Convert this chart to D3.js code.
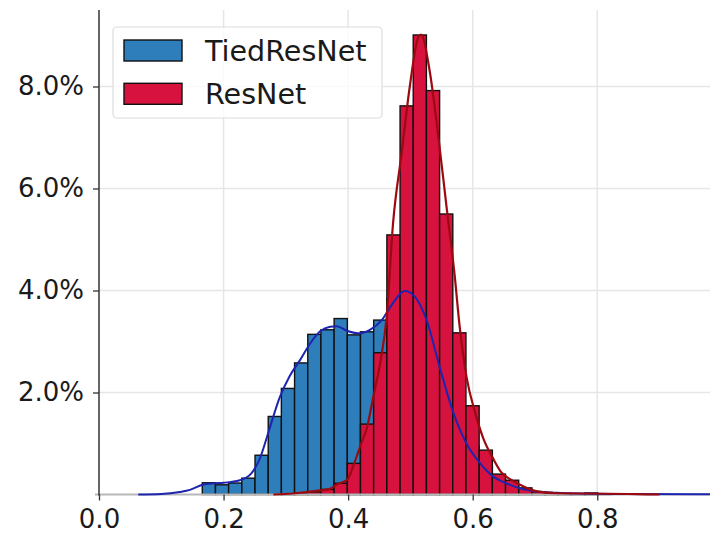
<!DOCTYPE html>
<html>
<head>
<meta charset="utf-8">
<script src="https://cdn.jsdelivr.net/npm/d3@7"></script>
<style>
  html, body { margin: 0; padding: 0; background: #fff; }
  svg { display: block; font-family: "DejaVu Sans", sans-serif; }
</style>
</head>
<body>
<svg id="chart" width="710" height="533"></svg>
<script>
// Histogram bins (left edges) shared by both series, and the bin width
const binEdges = [0.1658, 0.1870, 0.2081, 0.2293, 0.2505, 0.2717, 0.2928, 0.3140, 0.3352, 0.3563,
                  0.3775, 0.3987, 0.4198, 0.4410, 0.4622, 0.4834, 0.5045, 0.5257, 0.5469, 0.5680,
                  0.5892, 0.6104, 0.6315, 0.6527, 0.6739, 0.6951, 0.7162, 0.7374, 0.7586, 0.7797,
                  0.8009];
const binWidth = 0.02117;

// Share of samples per bin (percent)
const tiedResNetHist = [0.23, 0.19, 0.225, 0.32, 0.77, 1.53, 2.08, 2.58, 3.14, 3.23,
                        3.45, 3.13, 3.19, 3.42, 3.85, 3.95, 3.70, 3.00, 2.10, 1.40,
                        0.95, 0.55, 0.30, 0.18, 0.10, 0.04, 0.02, 0.01, 0.01, 0.01,
                        0.0];
const resNetHist = [0, 0, 0, 0, 0, 0, 0.01, 0.03, 0.05, 0.10,
                    0.22, 0.61, 1.38, 2.78, 5.09, 7.62, 9.01, 7.92, 5.50, 3.17,
                    1.74, 0.87, 0.40, 0.28, 0.13, 0.055, 0.03, 0.02, 0.01, 0.03,
                    0.01];

// Kernel density estimates (x, percent)
const tiedResNetKdeX = [0.063, 0.10, 0.13, 0.146, 0.166, 0.185, 0.20, 0.226, 0.245, 0.258,
                        0.274, 0.29, 0.306, 0.323, 0.339, 0.355, 0.371, 0.382, 0.398, 0.416,
                        0.435, 0.454, 0.470, 0.491, 0.507, 0.526, 0.547, 0.569, 0.590, 0.612,
                        0.633, 0.654, 0.676, 0.697, 0.735, 0.772, 0.85, 0.981];
const tiedResNetKdeY = [0.0, 0.01, 0.05, 0.09, 0.19, 0.22, 0.23, 0.28, 0.42, 0.70,
                        1.30, 1.90, 2.32, 2.64, 2.96, 3.20, 3.29, 3.30, 3.21, 3.16,
                        3.23, 3.42, 3.72, 3.99, 3.88, 3.42, 2.50, 1.60, 1.00, 0.61,
                        0.35, 0.22, 0.12, 0.07, 0.035, 0.02, 0.01, 0.005];
const resNetKdeX = [0.28, 0.311, 0.355, 0.371, 0.382, 0.398, 0.410, 0.421, 0.430, 0.441,
                    0.451, 0.462, 0.472, 0.486, 0.499, 0.513, 0.517, 0.531, 0.545, 0.558,
                    0.571, 0.579, 0.590, 0.604, 0.617, 0.633, 0.645, 0.660, 0.676, 0.692,
                    0.708, 0.735, 0.78, 0.85, 0.90];
const resNetKdeY = [0.0, 0.02, 0.08, 0.11, 0.20, 0.28, 0.62, 1.00, 1.30, 1.95,
                    2.55, 3.50, 5.30, 6.70, 8.00, 8.98, 9.02, 8.30, 7.00, 5.64,
                    4.30, 3.30, 2.31, 1.60, 1.10, 0.70, 0.45, 0.30, 0.19, 0.10,
                    0.05, 0.025, 0.02, 0.01, 0.0];

const seriesNames = ["TiedResNet", "ResNet"];
const xTicks = [0.0, 0.2, 0.4, 0.6, 0.8];
const yTicks = [2, 4, 6, 8];

const barColors = ["#2e7ebb", "#d7123f"];
const lineColors = ["#1c24b0", "#9c0a10"];

const svg = d3.select("#chart");
const x = d3.scaleLinear().domain([0, 0.981]).range([99, 710]);
const y = d3.scaleLinear().domain([0, 9.5]).range([494.5, 10]);

// Grid
const grid = svg.append("g");
grid.selectAll("line.vx").data(xTicks.filter(d => d > 0)).join("line")
  .attr("x1", d => x(d)).attr("x2", d => x(d))
  .attr("y1", y(9.5)).attr("y2", y(0))
  .attr("stroke", "#e6e6e6").attr("stroke-width", 1.5);
grid.selectAll("line.hy").data(yTicks).join("line")
  .attr("x1", x(0)).attr("x2", 710)
  .attr("y1", d => y(d)).attr("y2", d => y(d))
  .attr("stroke", "#e6e6e6").attr("stroke-width", 1.5);

// Histogram bars
function drawBars(values, color) {
  svg.append("g").selectAll("rect")
    .data(binEdges.map((e, i) => ({ e, v: values[i] })).filter(d => d.v > 0))
    .join("rect")
    .attr("x", d => x(d.e))
    .attr("width", d => x(d.e + binWidth) - x(d.e))
    .attr("y", d => y(d.v))
    .attr("height", d => y(0) - y(d.v))
    .attr("fill", color)
    .attr("stroke", "#111")
    .attr("stroke-width", 1.4);
}
drawBars(tiedResNetHist, barColors[0]);
drawBars(resNetHist, barColors[1]);

// Spines
svg.append("line")
  .attr("x1", x(0) - 4).attr("x2", 710)
  .attr("y1", y(0)).attr("y2", y(0))
  .attr("stroke", "#b8b8b8").attr("stroke-width", 2);

// Density curves
const line = d3.line().curve(d3.curveMonotoneX).x(d => x(d[0])).y(d => y(d[1]));
svg.append("path")
  .datum(tiedResNetKdeX.map((v, i) => [v, tiedResNetKdeY[i]]))
  .attr("d", line).attr("fill", "none")
  .attr("stroke", lineColors[0]).attr("stroke-width", 2);
svg.append("path")
  .datum(resNetKdeX.map((v, i) => [v, resNetKdeY[i]]))
  .attr("d", line).attr("fill", "none")
  .attr("stroke", lineColors[1]).attr("stroke-width", 2.2);

// Axes
const xAxis = svg.append("g")
  .attr("transform", `translate(0,${y(0)})`)
  .call(d3.axisBottom(x).tickValues(xTicks).tickFormat(d3.format(".1f")).tickSize(6).tickPadding(9));
const yAxis = svg.append("g")
  .attr("transform", `translate(${x(0)},0)`)
  .call(d3.axisLeft(y).tickValues(yTicks).tickFormat(d => d.toFixed(1) + "%").tickSize(6).tickPadding(9));
[xAxis, yAxis].forEach(a => {
  a.select(".domain").remove();
  a.selectAll(".tick line").attr("stroke", "#333").attr("stroke-width", 1.3);
  a.selectAll(".tick text").attr("fill", "#1a1a1a")
    .style("font-family", "'DejaVu Sans', sans-serif").style("font-size", "26px");
});
svg.append("line")
  .attr("x1", x(0)).attr("x2", x(0))
  .attr("y1", 10).attr("y2", y(0) + 1)
  .attr("stroke", "#333").attr("stroke-width", 1.5);

// Legend
const legend = svg.append("g");
legend.append("rect")
  .attr("x", 113).attr("y", 27).attr("width", 269).attr("height", 91)
  .attr("rx", 4).attr("fill", "#fff").attr("fill-opacity", 0.8)
  .attr("stroke", "#dcdcdc").attr("stroke-width", 1.2);
seriesNames.forEach((name, i) => {
  const yy = 40 + i * 43.3;
  legend.append("rect")
    .attr("x", 124).attr("y", yy).attr("width", 58).attr("height", 21)
    .attr("fill", barColors[i]).attr("stroke", "#111").attr("stroke-width", 1.4);
  legend.append("text")
    .attr("x", 205).attr("y", yy + 21)
    .attr("fill", "#1a1a1a")
    .style("font-size", "28.6px")
    .text(name);
});
</script>
</body>
</html>
